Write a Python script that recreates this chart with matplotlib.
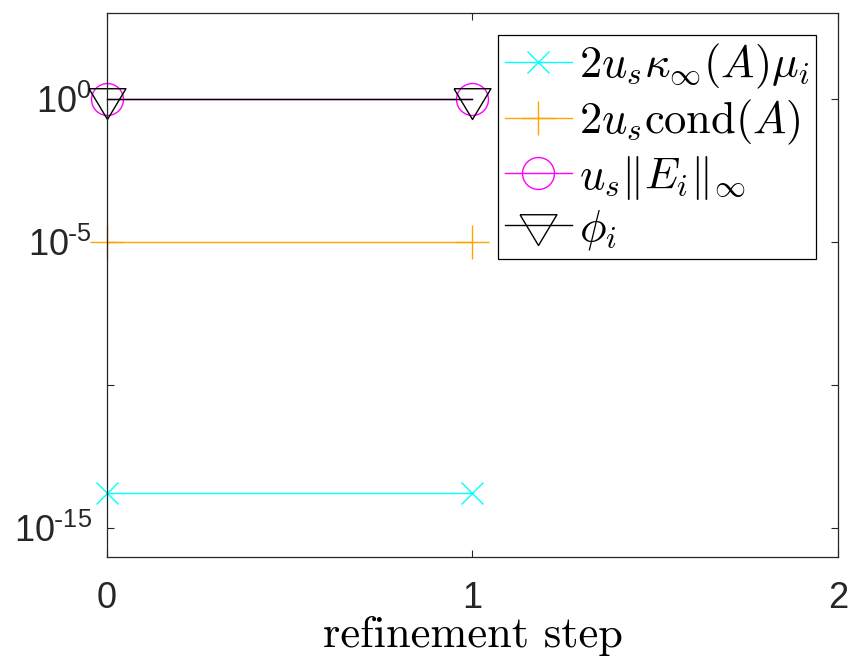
import numpy as np
import matplotlib
import matplotlib.pyplot as plt

plt.switch_backend('agg')
plt.rcParams['font.family'] = ['Liberation Sans', 'DejaVu Sans']
plt.rcParams['mathtext.fontset'] = 'cm'
plt.rcParams['axes.unicode_minus'] = False

# refinement steps and bounds
steps = [0, 1]
kappa_bound = [1.7e-14, 1.7e-14]
cond_bound = [1.0e-5, 1.0e-5]
err_norm = [1.0, 1.0]
phi = [1.0, 1.0]

labels = [r'$2u_s\kappa_\infty(A)\mu_i$', r'$2u_s\mathrm{cond}(A)$',
          r'$u_s\Vert E_i\Vert_\infty$', r'$\phi_i$']
ytick_vals = [1e-15, 1e-10, 1e-5, 1e0]
ytick_labels = [r'$\mathdefault{10^{\text{-}15}}$', '',
                r'$\mathdefault{10^{\text{-}5}}$', r'$\mathdefault{10^{0}}$']

dark = '#262626'
# wide downward triangle like MATLAB's 'v'
tri = [(-1.2, 0.7), (1.2, 0.7), (0, -1.3), (-1.2, 0.7)]

fig = plt.figure(figsize=(8.51, 6.61), dpi=100)
ax = fig.add_axes([0.1257, 0.1573, 0.859, 0.8230])

ax.plot(steps, kappa_bound, color='cyan', marker='x', markersize=16, lw=1.0,
        label=labels[0], clip_on=False)
ax.plot(steps, cond_bound, color='#FFA500', marker='+', markersize=24, lw=1.0,
        label=labels[1], clip_on=False)
ax.plot(steps, err_norm, color='magenta', marker='o', markersize=23, lw=1.0,
        markerfacecolor='none', label=labels[2], clip_on=False)
ax.plot(steps, phi, color='black', marker=tri, markersize=28.8, lw=1.0,
        markerfacecolor='none', label=labels[3], clip_on=False)

ax.set_yscale('log')
ax.set_ylim(1e-16, 1e3)
ax.set_xlim(0, 2)
ax.set_xticks([0, 1, 2])
ax.set_yticks(ytick_vals)
ax.set_yticklabels(ytick_labels)
ax.minorticks_off()

for s in ax.spines.values():
    s.set_color(dark)
    s.set_linewidth(0.9)
ax.tick_params(direction='in', length=5, width=0.8, colors=dark,
               labelsize=26, top=True, right=True, pad=11)
ax.tick_params(axis='x', pad=17)

ax.set_xlabel('refinement step', fontname='cmr10', fontsize=32, labelpad=0)

leg = ax.legend(loc='upper right', fontsize=32, fancybox=False, framealpha=1,
                edgecolor='black', borderaxespad=0.5, handlelength=1.5,
                handletextpad=0.16, labelspacing=0.15, borderpad=0.15)
leg.get_frame().set_linewidth(0.9)

fig.savefig('out.png', dpi=100)
